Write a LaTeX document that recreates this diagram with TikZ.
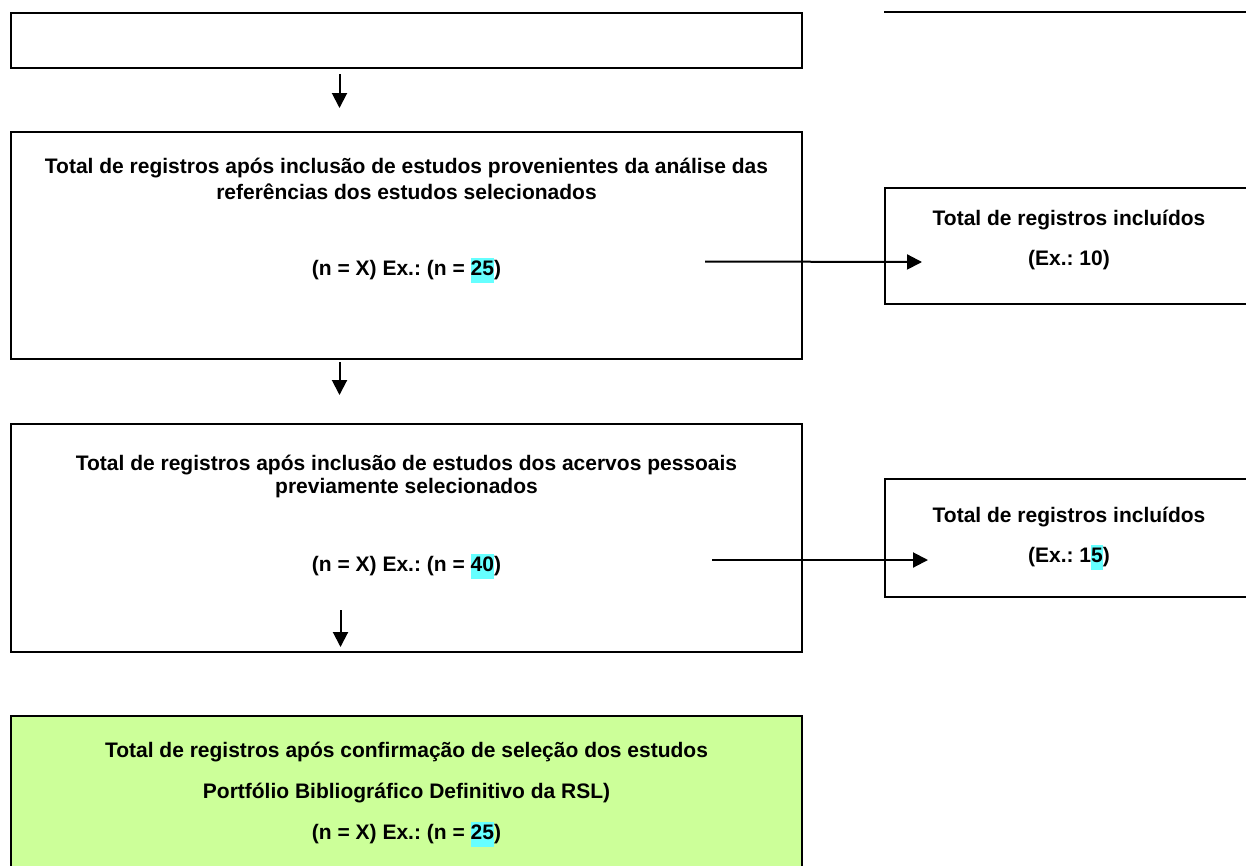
\documentclass[tikz,border=0pt]{standalone}
\usepackage{fontspec}
\setmainfont{Liberation Sans}
\usetikzlibrary{arrows.meta,positioning,calc}
\definecolor{Ink}{HTML}{000000}
\definecolor{Lime}{HTML}{CCFF99}
\definecolor{Mark}{HTML}{66FFFF}
\newcommand{\hlnum}[1]{{\setlength{\fboxsep}{0pt}\colorbox{Mark}{\strut #1}}}
\frenchspacing
\tikzset{
  stage/.style={draw=Ink,fill=white,line width=2pt,inner sep=0pt,anchor=north west},
  final/.style={stage,fill=Lime},
  txt/.style={font=\fontsize{21}{25}\selectfont\bfseries,inner sep=0pt,anchor=base},
  flow/.style={-{Triangle[length=15pt,width=15pt]},draw=Ink,line width=2pt},
  edge/.style={draw=Ink,line width=2pt}
}
\begin{document}
\begin{tikzpicture}[x=1pt,y=-1pt]
  \useasboundingbox (0,0) rectangle (1246,865);
  % main column
  \node[stage,minimum width=791pt,minimum height=55pt] (top) at (10,12) {};
  \node[stage,minimum width=791pt,minimum height=227pt] (refs) at (10,131) {};
  \node[stage,minimum width=791pt,minimum height=228pt] (pers) at (10,423) {};
  \node[final,minimum width=791pt,minimum height=170pt] (port) at (10,715) {};
  % side boxes
  \node[stage,minimum width=400pt,minimum height=116pt] (inc1) at (884,187) {};
  \node[stage,minimum width=400pt,minimum height=118pt] (inc2) at (884,478) {};
  \draw[edge] (884,12) -- (1260,12);

  \node[txt] (refs1) at ($(refs.north)+(0,42)$) {Total de registros após inclusão de estudos provenientes da análise das};
  \node[txt] (refs2) at ($(refs.north)+(0,68)$) {referências dos estudos selecionados};
  \node[txt] (refs3) at ($(refs.north)+(0,144)$) {(n = X) Ex.: (n = \hlnum{25})};

  \node[txt] (pers1) at ($(pers.north)+(0,47)$) {Total de registros após inclusão de estudos dos acervos pessoais};
  \node[txt] (pers2) at ($(pers.north)+(0,70)$) {previamente selecionados};
  \node[txt] (pers3) at ($(pers.north)+(0,148)$) {(n = X) Ex.: (n = \hlnum{40})};

  \node[txt] (port1) at ($(port.north)+(0,42)$) {Total de registros após confirmação de seleção dos estudos};
  \node[txt] (port2) at ($(port.north)+(0,83)$) {Portfólio Bibliográfico Definitivo da RSL)};
  \node[txt] (port3) at ($(port.north)+(0,124)$) {(n = X) Ex.: (n = \hlnum{25})};

  \node[txt] (inc1a) at ($(inc1.north west)+(185,38)$) {Total de registros incluídos};
  \node[txt] (inc1b) at ($(inc1.north west)+(185,78)$) {(Ex.: 10)};
  \node[txt] (inc2a) at ($(inc2.north west)+(185,44)$) {Total de registros incluídos};
  \node[txt] (inc2b) at ($(inc2.north west)+(185,84)$) {(Ex.: 1\hlnum{5})};

  % connectors
  \draw[flow] ($(top.south)+(-67,5)$) -- ($(refs.north)+(-67,-23)$);
  \draw[flow] ($(refs.south)+(-67,2)$) -- ($(pers.north)+(-67,-28)$);
  \draw[flow] ($(pers.south)+(-66,-43)$) -- ($(pers.south)+(-66,-6)$);
  \draw[flow] ($(refs.east)+(-98,16)$) -- ($(inc1.west)+(38,16)$);
  \draw[flow] ($(pers.east)+(-91,22)$) -- ($(inc2.west)+(44,22)$);
\end{tikzpicture}
\end{document}
